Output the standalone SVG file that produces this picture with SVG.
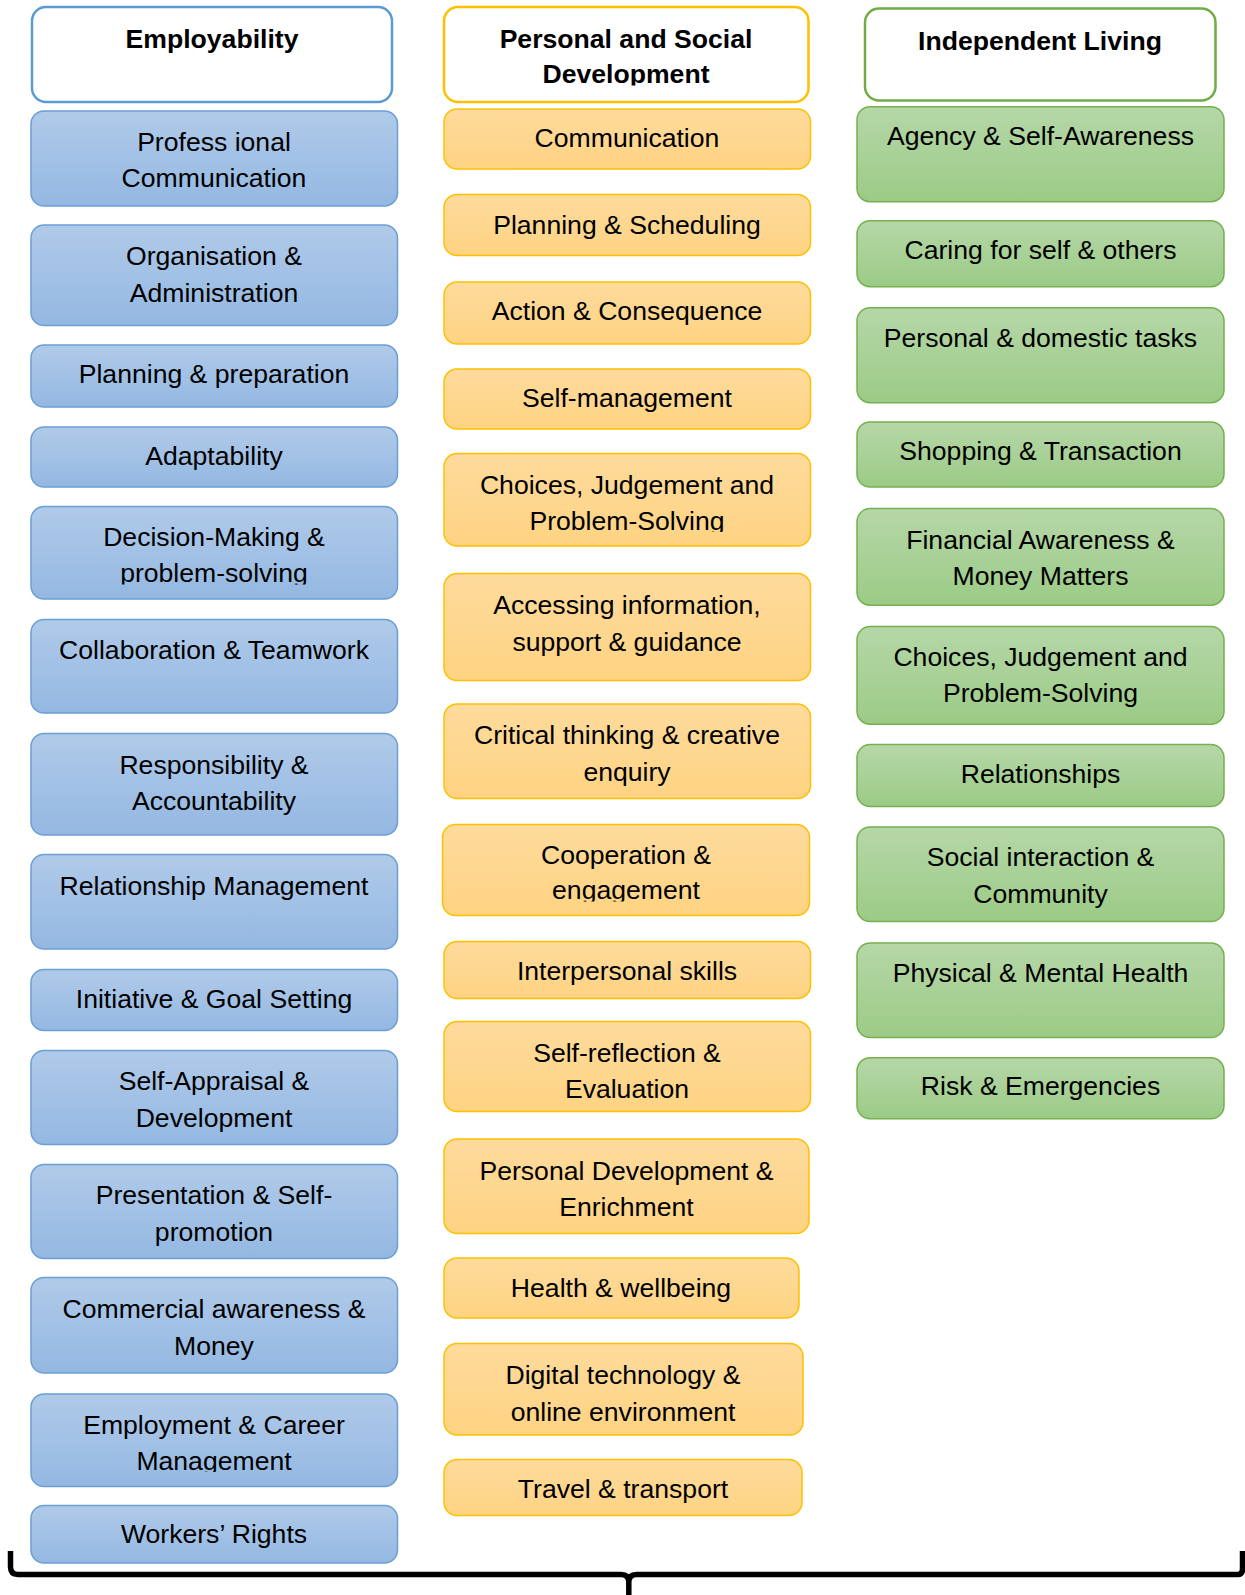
<svg xmlns="http://www.w3.org/2000/svg" width="1245" height="1595" viewBox="0 0 1245 1595">
  <defs>
    <linearGradient id="gBlue" x1="0" y1="0" x2="0" y2="1">
      <stop offset="0" stop-color="#b0cae9"/>
      <stop offset="1" stop-color="#94b8e2"/>
    </linearGradient>
    <linearGradient id="gOrange" x1="0" y1="0" x2="0" y2="1">
      <stop offset="0" stop-color="#fedb9d"/>
      <stop offset="1" stop-color="#fed382"/>
    </linearGradient>
    <linearGradient id="gGreen" x1="0" y1="0" x2="0" y2="1">
      <stop offset="0" stop-color="#b6d7a8"/>
      <stop offset="1" stop-color="#9bcb86"/>
    </linearGradient>
    <!-- text frames that cut off the last line's descenders -->
    <clipPath id="cDev" clipPathUnits="userSpaceOnUse"><rect x="440" y="0" width="375" height="85.5"/></clipPath>
    <clipPath id="cProb1" clipPathUnits="userSpaceOnUse"><rect x="25" y="500" width="380" height="84.5"/></clipPath>
    <clipPath id="cProb2" clipPathUnits="userSpaceOnUse"><rect x="440" y="450" width="375" height="82"/></clipPath>
    <clipPath id="cEng" clipPathUnits="userSpaceOnUse"><rect x="440" y="820" width="375" height="81.5"/></clipPath>
    <clipPath id="cMgmt" clipPathUnits="userSpaceOnUse"><rect x="25" y="1390" width="380" height="82"/></clipPath>
  </defs>
  <style>
    text { font-family: "Liberation Sans", Arial, sans-serif; font-size: 26.6px; fill: #000; text-anchor: middle; }
    .hd text { font-weight: bold; }
    .blue rect { fill: url(#gBlue); stroke: #6a9fd6; stroke-width: 1.5; }
    .orange rect { fill: url(#gOrange); stroke: #ffc000; stroke-width: 1.5; }
    .green rect { fill: url(#gGreen); stroke: #76b04f; stroke-width: 1.5; }
    .hd.blue rect { fill: #fff; stroke: #5b9bd5; stroke-width: 2.5; }
    .hd.orange rect { fill: #fff; stroke: #ffc000; stroke-width: 2.5; }
    .hd.green rect { fill: #fff; stroke: #70ad47; stroke-width: 2.5; }
    .brace { fill: none; stroke: #000; stroke-width: 5.5; stroke-linejoin: round; }
  </style>

  <!-- Employability column -->
  <g id="employability" class="hd blue"><rect x="32" y="7" width="360" height="95" rx="14"/><text x="212" y="47.7">Employability</text></g>
  <g id="e1" class="blue"><rect x="31" y="111" width="366.5" height="95" rx="13"/><text x="214" y="150.7">Profess ional</text><text x="214" y="186.5">Communication</text></g>
  <g id="e2" class="blue"><rect x="31" y="225" width="366.5" height="100.5" rx="13"/><text x="214" y="265">Organisation &amp;</text><text x="214" y="301.5">Administration</text></g>
  <g id="e3" class="blue"><rect x="31" y="345" width="366.5" height="62" rx="13"/><text x="214" y="383">Planning &amp; preparation</text></g>
  <g id="e4" class="blue"><rect x="31" y="427" width="366.5" height="60" rx="13"/><text x="214" y="465">Adaptability</text></g>
  <g id="e5" class="blue"><rect x="31" y="506.5" width="366.5" height="92.5" rx="13"/><text x="214" y="545.5">Decision-Making &amp;</text><text x="214" y="582" clip-path="url(#cProb1)">problem-solving</text></g>
  <g id="e6" class="blue"><rect x="31" y="619.5" width="366.5" height="93.5" rx="13"/><text x="214" y="658.5">Collaboration &amp; Teamwork</text></g>
  <g id="e7" class="blue"><rect x="31" y="733.5" width="366.5" height="101.5" rx="13"/><text x="214" y="773.5">Responsibility &amp;</text><text x="214" y="810">Accountability</text></g>
  <g id="e8" class="blue"><rect x="31" y="854.5" width="366.5" height="94.5" rx="13"/><text x="214" y="894.5">Relationship Management</text></g>
  <g id="e9" class="blue"><rect x="31" y="969.5" width="366.5" height="61" rx="13"/><text x="214" y="1007.5">Initiative &amp; Goal Setting</text></g>
  <g id="e10" class="blue"><rect x="31" y="1050.5" width="366.5" height="94" rx="13"/><text x="214" y="1090">Self-Appraisal &amp;</text><text x="214" y="1126.5">Development</text></g>
  <g id="e11" class="blue"><rect x="31" y="1164.5" width="366.5" height="94" rx="13"/><text x="214" y="1204">Presentation &amp; Self-</text><text x="214" y="1240.5">promotion</text></g>
  <g id="e12" class="blue"><rect x="31" y="1277.5" width="366.5" height="95.5" rx="13"/><text x="214" y="1318">Commercial awareness &amp;</text><text x="214" y="1354.5">Money</text></g>
  <g id="e13" class="blue"><rect x="31" y="1394" width="366.5" height="92.5" rx="13"/><text x="214" y="1433.5">Employment &amp; Career</text><text x="214" y="1470" clip-path="url(#cMgmt)">Management</text></g>
  <g id="e14" class="blue"><rect x="31" y="1505.5" width="366.5" height="57.5" rx="13"/><text x="214" y="1543">Workers’ Rights</text></g>

  <!-- Personal and Social Development column -->
  <g id="psd" class="hd orange"><rect x="444" y="7" width="364.5" height="95" rx="14"/><text x="626" y="47.7">Personal and Social</text><text x="626" y="83.3" clip-path="url(#cDev)">Development</text></g>
  <g id="p1" class="orange"><rect x="444" y="109" width="366.5" height="60" rx="13"/><text x="627" y="147">Communication</text></g>
  <g id="p2" class="orange"><rect x="444" y="194.5" width="366.5" height="61" rx="13"/><text x="627" y="233.5">Planning &amp; Scheduling</text></g>
  <g id="p3" class="orange"><rect x="444" y="282" width="366.5" height="62" rx="13"/><text x="627" y="320">Action &amp; Consequence</text></g>
  <g id="p4" class="orange"><rect x="444" y="369" width="366.5" height="60" rx="13"/><text x="627" y="407">Self-management</text></g>
  <g id="p5" class="orange"><rect x="444" y="453.5" width="366.5" height="92.5" rx="13"/><text x="627" y="494">Choices, Judgement and</text><text x="627" y="529.5" clip-path="url(#cProb2)">Problem-Solving</text></g>
  <g id="p6" class="orange"><rect x="444" y="573.5" width="366.5" height="107" rx="13"/><text x="627" y="614">Accessing information,</text><text x="627" y="650.5">support &amp; guidance</text></g>
  <g id="p7" class="orange"><rect x="444" y="704" width="366.5" height="94.5" rx="13"/><text x="627" y="744">Critical thinking &amp; creative</text><text x="627" y="780.5">enquiry</text></g>
  <g id="p8" class="orange"><rect x="442.5" y="824.5" width="367" height="91" rx="13"/><text x="626" y="864">Cooperation &amp;</text><text x="626" y="899.3" clip-path="url(#cEng)">engagement</text></g>
  <g id="p9" class="orange"><rect x="444" y="941.5" width="366.5" height="57" rx="13"/><text x="627" y="980">Interpersonal skills</text></g>
  <g id="p10" class="orange"><rect x="444" y="1021.5" width="366.5" height="90" rx="13"/><text x="627" y="1061.5">Self-reflection &amp;</text><text x="627" y="1098">Evaluation</text></g>
  <g id="p11" class="orange"><rect x="444" y="1139" width="365" height="94.5" rx="13"/><text x="626.5" y="1179.5">Personal Development &amp;</text><text x="626.5" y="1216">Enrichment</text></g>
  <g id="p12" class="orange"><rect x="444" y="1258" width="355" height="60" rx="13"/><text x="621" y="1296.5">Health &amp; wellbeing</text></g>
  <g id="p13" class="orange"><rect x="444" y="1343.5" width="359" height="91.5" rx="13"/><text x="623" y="1384">Digital technology &amp;</text><text x="623" y="1420.5">online environment</text></g>
  <g id="p14" class="orange"><rect x="444" y="1459.5" width="358" height="56" rx="13"/><text x="623" y="1498">Travel &amp; transport</text></g>

  <!-- Independent Living column -->
  <g id="independent" class="hd green"><rect x="865" y="8.5" width="350.5" height="92" rx="14"/><text x="1040" y="50">Independent Living</text></g>
  <g id="i1" class="green"><rect x="857" y="106.7" width="367" height="95" rx="13"/><text x="1040.5" y="145">Agency &amp; Self-Awareness</text></g>
  <g id="i2" class="green"><rect x="857" y="220.7" width="367" height="66" rx="13"/><text x="1040.5" y="258.7">Caring for self &amp; others</text></g>
  <g id="i3" class="green"><rect x="857" y="307.7" width="367" height="95" rx="13"/><text x="1040.5" y="346.7">Personal &amp; domestic tasks</text></g>
  <g id="i4" class="green"><rect x="857" y="422" width="367" height="65" rx="13"/><text x="1040.5" y="460">Shopping &amp; Transaction</text></g>
  <g id="i5" class="green"><rect x="857" y="508.6" width="367" height="96.6" rx="13"/><text x="1040.5" y="548.6">Financial Awareness &amp;</text><text x="1040.5" y="585">Money Matters</text></g>
  <g id="i6" class="green"><rect x="857" y="626.6" width="367" height="97.6" rx="13"/><text x="1040.5" y="665.5">Choices, Judgement and</text><text x="1040.5" y="702">Problem-Solving</text></g>
  <g id="i7" class="green"><rect x="857" y="744.6" width="367" height="62" rx="13"/><text x="1040.5" y="782.5">Relationships</text></g>
  <g id="i8" class="green"><rect x="857" y="827" width="367" height="94.5" rx="13"/><text x="1040.5" y="866">Social interaction &amp;</text><text x="1040.5" y="902.5">Community</text></g>
  <g id="i9" class="green"><rect x="857" y="943" width="367" height="94.5" rx="13"/><text x="1040.5" y="982">Physical &amp; Mental Health</text></g>
  <g id="i10" class="green"><rect x="857" y="1057.8" width="367" height="61" rx="13"/><text x="1040.5" y="1095">Risk &amp; Emergencies</text></g>

  <!-- bracket spanning all three columns -->
  <g id="connectors">
    <path class="brace" d="M10.5,1551 V1567 Q10.5,1574.5 18,1574.5 H621 Q628.8,1574.5 628.8,1582 V1600 M628.8,1582 Q628.8,1574.5 636.5,1574.5 H1238 Q1242.5,1574.5 1242.5,1569 V1551"/>
  </g>
</svg>
